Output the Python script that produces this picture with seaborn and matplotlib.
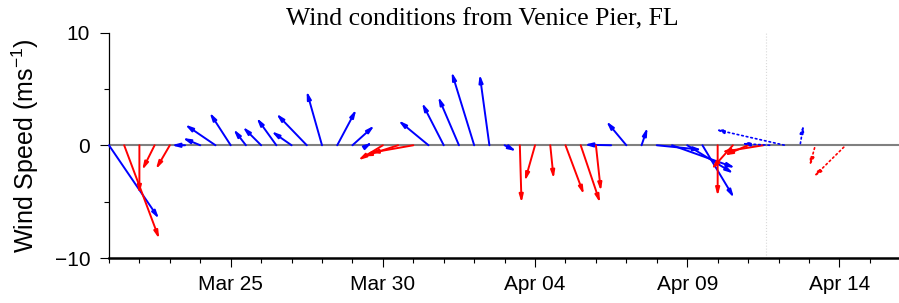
import matplotlib
matplotlib.use("Agg")
import matplotlib.pyplot as plt
import matplotlib.dates as mdates
import pandas as pd
import seaborn as sns

# observed wind components (m/s), one stick every 12 h starting Mar 21
obs_start = "2014-03-21"
obs_u = [4.44, 3.11, 0.0, -1.1, -1.24, -1.2, -1.57, -2.7, -1.87, -1.1,
         -1.63, -1.75, -1.78, -2.7, -1.36, 1.69, 1.95, 0.4, -2.2, -3.1,
         -3.85, -2.67, -1.93, -1.84, -2.0, -0.86, 1.04, 0.15, -0.9, 0.3,
         1.63, 1.72, 0.44, -2.37, -1.78, 0.53, 4.0, 5.6, 4.1, 2.8,
         0.0, -1.9, -2.1, -3.7]
obs_v = [-6.52, -8.3, -4.3, -2.2, -2.13, 0.0, 0.65, 1.84, 2.9, 1.42,
         1.63, 2.43, 1.24, 2.8, 4.8, 3.17, 1.75, 0.25, -1.33, -1.0,
         -0.68, 2.2, 3.76, 4.3, 6.5, 6.28, -0.53, -5.1, -3.17, -2.96,
         -4.36, -5.1, -4.06, 0.05, 2.13, 1.57, -0.4, -2.0, -2.5, -4.66,
         -4.5, -2.13, -0.9, -0.6]
obs_group = list("b" "rrrr" "bbbbbbbbbbbbb" "rrr" "bbbbbb" "rrrrrr" "bbbbbbb" "rrrr")

# forecast sticks
fc_times = ["2014-04-11 17:00", "2014-04-12 05:00", "2014-04-12 17:00",
            "2014-04-13 05:00", "2014-04-14 05:00"]
fc_u = [-2.5, -6.13, 0.3, -0.5, -2.84]
fc_v = [0.15, 1.39, 1.8, -1.84, -2.8]
fc_group = ["b", "b", "b", "r", "r"]

now_time = "2014-04-11 14:30"
tick_dates = ["2014-03-25", "2014-03-30", "2014-04-04", "2014-04-09", "2014-04-14"]

sns.set_theme(style="ticks", rc={"axes.edgecolor": "black", "xtick.color": "black",
                                 "ytick.color": "black", "text.color": "black",
                                 "axes.labelcolor": "black"})
plt.rcParams["font.family"] = ["Liberation Sans", "DejaVu Sans"]
plt.rcParams["mathtext.default"] = "regular"

palette = {"b": "#0000ff", "r": "#ff0000"}

obs_times = pd.date_range(obs_start, periods=len(obs_u), freq="12h")
obs = pd.DataFrame({"time": obs_times, "u": obs_u, "v": obs_v, "group": obs_group})
fc = pd.DataFrame({"time": pd.to_datetime(fc_times), "u": fc_u, "v": fc_v, "group": fc_group})

fig = plt.figure(figsize=(8.99, 3.03), dpi=100)
ax = fig.add_axes([0.1212, 0.1485, 0.8788, 0.7442])
ax.xaxis_date()
ax.set_xlim(mdates.date2num(pd.Timestamp("2014-03-21")),
            mdates.date2num(pd.Timestamp("2014-04-15 23:00")))
ax.set_ylim(-10, 10)

ax.axhline(0, color="#808080", lw=1.5, zorder=1)
ax.axvline(mdates.date2num(pd.Timestamp(now_time)), color="0.85", lw=0.8, ls=":", zorder=0)

# points per m/s on the y axis, used for both components so sticks keep their angle
y0, y1 = ax.transData.transform([(0, 0), (0, 1)])[:, 1]
ppu = (y1 - y0) * 72 / fig.dpi


def stick(row, ls, lw):
    ax.annotate("", xy=(mdates.date2num(row.time), 0),
                xytext=(row.u * ppu, row.v * ppu), textcoords="offset points",
                annotation_clip=False,
                arrowprops=dict(arrowstyle="<|-,head_length=0.45,head_width=0.12",
                                color=palette[row.group], lw=lw, ls=ls,
                                shrinkA=0, shrinkB=0, mutation_scale=10))


for grp in ["b", "r"]:
    for row in obs[obs.group == grp].itertuples():
        stick(row, "-", 1.4)
for row in fc.itertuples():
    stick(row, (0, (1, 1.8)), 1.2)

ax.set_xticks(mdates.date2num(pd.to_datetime(tick_dates)))
ax.xaxis.set_major_formatter(mdates.DateFormatter("%b %d"))
ax.xaxis.set_minor_locator(mdates.DayLocator())
ax.set_yticks([-10, 0, 10])
ax.set_yticks([-5, 5], minor=True)

ax.tick_params(which="major", length=6.5, width=0.8, direction="out", labelsize=15)
ax.tick_params(which="minor", length=3.6, width=0.8, direction="out")
ax.tick_params(axis="y", which="major", pad=7)
ax.tick_params(axis="x", which="major", pad=6)

sns.despine(ax=ax)
ax.spines["left"].set_linewidth(0.9)
ax.spines["bottom"].set_linewidth(1.8)

ax.set_ylabel("Wind Speed (ms$^{-1}$)", fontsize=18)
ax.yaxis.set_label_coords(-0.086, 0.5)

fig.text(482 / 899, 1 - 25 / 303, "Wind conditions from Venice Pier, FL",
         family="Liberation Serif", size=18.5, ha="center", va="baseline")

fig.savefig("out.png", dpi=100)
